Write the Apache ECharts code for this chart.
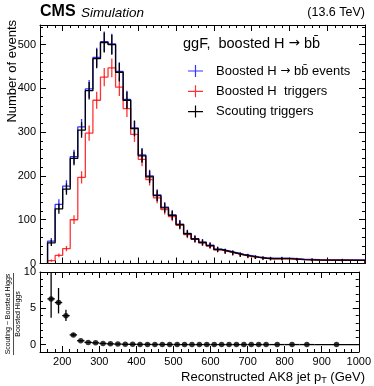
<!DOCTYPE html>
<html><head><meta charset="utf-8">
<script src="https://cdn.jsdelivr.net/npm/echarts@6/dist/echarts.min.js"></script>
<style>html,body{margin:0;padding:0;background:#fff}#c{width:374px;height:386px}</style>
</head><body><div id="c"></div>
<script>
// ---------------- data ----------------
const binEdges = [160,180,200,220,240,260,280,300,320,340,360,380,400,420,440,460,480,500,520,540,560,580,600,620,640,660,680,700,720,740,760,800,840,880,1000];
const allEvents   = [51,135,177,244,312,399,471,507,502,439,375,310,248,200,157,129,111,90,69,57,49,42,33,29,25,21,18,15,13,12,12,10,9,8];
const allErr      = [7.5,12,13.5,16,18,20.5,22,23,23,21,19.5,17.5,16,14,12.5,11.5,10.5,9.5,8.3,7.5,7,6.5,5.7,5.4,5,4.6,4.2,3.9,3.6,3.5,3.5,3.2,3,2.8];
const boostedTrig = [6.5,18.5,34,100,197,298,373,426,447,403,354,295,238,192,150,123,107,87,66,55,47,40,31,27,23,19,16,14,12,10,11,9,8,7];
const boostedErr  = [2.5,4.3,6,10,14,17.5,19.5,21,21.5,20.5,19,17.5,15.5,14,12.5,11,10.5,9.5,8.1,7.5,6.9,6.3,5.6,5.2,4.8,4.4,4,3.7,3.5,3.2,3.3,3,2.8,2.6];
const scoutTrig   = [47,125,170,240,305,395,468,505,500,437,373,308,246,198,155,127,110,89,68,56,48,41,32,28,24,20,17,14,12,11,11,9,8,7];
const scoutErr    = [7,11.5,13,15.5,17.5,20,22,23,23,21,19.5,17.5,16,14,12.5,11.3,10.5,9.4,8.2,7.5,6.9,6.4,5.7,5.3,4.9,4.5,4.1,3.7,3.5,3.3,3.3,3,2.8,2.6];
const ratioVals   = [6.3,5.8,4.0,1.35,0.55,0.32,0.26,0.17,0.12,0.09,0.06,0.05,0.04,0.04,0.03,0.03,0.03,0.02,0.02,0.02,0.02,0.02,0.02,0.02,0.02,0.02,0.02,0.02,0.02,0.02,0.02,0.02,0.02,0.02];
const ratioErrLo  = [2.6,1.5,0.75,0.2,0.1,0.06,0.05,0.04,0.03,0.03,0.02,0.02,0.02,0.02,0.02,0.02,0.02,0.02,0.02,0.02,0.02,0.02,0.02,0.02,0.02,0.02,0.02,0.02,0.02,0.02,0.02,0.02,0.02,0.02];
const ratioErrHi  = [4.5,2.0,0.8,0.2,0.1,0.06,0.05,0.04,0.03,0.03,0.02,0.02,0.02,0.02,0.02,0.02,0.02,0.02,0.02,0.02,0.02,0.02,0.02,0.02,0.02,0.02,0.02,0.02,0.02,0.02,0.02,0.02,0.02,0.02];
const xMajorTicks = [200,300,400,500,600,700,800,900,1000];
const yMainTicks  = [0,100,200,300,400,500];
const yRatioTicks = [0,5,10];
const seriesNames = ['Boosted H \u2192 bb\u0304 events','Boosted H  triggers','Scouting triggers'];
const X_MIN = 140, X_MAX = 1000, Y_MAX = 545, R_MIN = -1, R_MAX = 10;

// ---------------- helpers ----------------
const FONT = 'Liberation Sans';
const BLUE = 'rgba(0,0,255,0.8)', RED = 'rgba(255,0,0,0.8)', BLACK = '#000';
function range(a, b, s){ const r=[]; for(let v=a; v<=b+1e-9; v+=s) r.push(Math.round(v*100)/100); return r; }
const xMinor = range(160, 980, 20);
const yMainMinor = range(20, 540, 20);
const yRatioMinor = range(-1, 10, 1);

function axis(kind, grid, pos, min, max, ticks, len, showLine, showLabel){
  return {
    type:'value', gridIndex:grid, position:pos, min:min, max:max,
    axisLine:{show:showLine, onZero:false, lineStyle:{color:'#000', width:1}},
    axisTick:{show:true, inside:true, length:len, customValues:ticks, lineStyle:{color:'#000', width:1}},
    axisLabel:{show:showLabel, customValues:ticks, color:'#000', fontFamily:FONT, fontSize:11, margin:4,
      showMinLabel:true, showMaxLabel:true, formatter:(v)=>String(v)},
    splitLine:{show:false}, minorTick:{show:false}, minorSplitLine:{show:false}
  };
}
const xAxes = [
  axis('x',0,'bottom',X_MIN,X_MAX,xMajorTicks,6,true,false),
  axis('x',0,'top',X_MIN,X_MAX,xMajorTicks,6,true,false),
  axis('x',0,'bottom',X_MIN,X_MAX,xMinor,3,false,false),
  axis('x',0,'top',X_MIN,X_MAX,xMinor,3,false,false),
  axis('x',1,'bottom',X_MIN,X_MAX,xMajorTicks,6,true,true),
  axis('x',1,'top',X_MIN,X_MAX,xMajorTicks,6,true,false),
  axis('x',1,'bottom',X_MIN,X_MAX,xMinor,3,false,false),
  axis('x',1,'top',X_MIN,X_MAX,xMinor,3,false,false)
];
const yAxes = [
  axis('y',0,'left',0,Y_MAX,yMainTicks,6,true,true),
  axis('y',0,'right',0,Y_MAX,yMainTicks,6,true,false),
  axis('y',0,'left',0,Y_MAX,yMainMinor,3,false,false),
  axis('y',0,'right',0,Y_MAX,yMainMinor,3,false,false),
  axis('y',1,'left',R_MIN,R_MAX,yRatioTicks,6,true,true),
  axis('y',1,'right',R_MIN,R_MAX,yRatioTicks,6,true,false),
  axis('y',1,'left',R_MIN,R_MAX,yRatioMinor,3,false,false),
  axis('y',1,'right',R_MIN,R_MAX,yRatioMinor,3,false,false)
];

const centers = binEdges.slice(0,-1).map((e,i)=>(e+binEdges[i+1])/2);
function stepData(vals){
  const d = [[binEdges[0],0]];
  vals.forEach((v,i)=>d.push([binEdges[i],v]));
  d.push([binEdges[binEdges.length-1], vals[vals.length-1]]);
  d.push([binEdges[binEdges.length-1], 0]);
  return d;
}
function stepSeries(name, vals, color, z){
  return {name:name, type:'line', xAxisIndex:0, yAxisIndex:0, step:'end', symbol:'none',
    data:stepData(vals), color:color, itemStyle:{color:color},
    lineStyle:{color:color, width:1.3}, z:z, animation:false};
}
function errSeries(vals, errs, color, z){
  return {type:'custom', xAxisIndex:0, yAxisIndex:0, clip:true, z:z, animation:false,
    data: centers.map((c,i)=>[c, vals[i], errs[i]]),
    renderItem:(p, api)=>{
      const x=api.value(0), y=api.value(1), e=api.value(2);
      const a=api.coord([x,y-e]), b=api.coord([x,y+e]);
      return {type:'line', shape:{x1:a[0],y1:a[1],x2:b[0],y2:b[1]}, style:{stroke:color, lineWidth:1.3}};
    }};
}

const option = {
  animation:false,
  backgroundColor:'#fff',
  grid:[
    {left:40, top:25, width:325, height:238.5},
    {left:40, top:272, width:325, height:80}
  ],
  xAxis:xAxes, yAxis:yAxes,
  legend:{
    orient:'vertical', left:183, top:59.5, itemWidth:15, itemHeight:12, itemGap:7.3,
    icon:'path://M0,5.4H15V6.6H0Z M6.9,0H8.1V12H6.9Z', selectedMode:false,
    formatter:(n)=>n.replace('\u2192','{ar|\u2192}'),
    textStyle:{fontFamily:FONT, fontSize:13, color:'#000', padding:[0,0,0,8],
      rich:{ar:{fontFamily:'DejaVu Sans', fontSize:12, color:'#000'}}},
    data:[
      {name:seriesNames[0], itemStyle:{color:BLUE}},
      {name:seriesNames[1], itemStyle:{color:RED}},
      {name:seriesNames[2], itemStyle:{color:BLACK}}
    ]
  },
  series:[
    stepSeries(seriesNames[0], allEvents, BLUE, 2),
    errSeries(allEvents, allErr, BLUE, 2),
    stepSeries(seriesNames[1], boostedTrig, RED, 3),
    errSeries(boostedTrig, boostedErr, RED, 3),
    stepSeries(seriesNames[2], scoutTrig, BLACK, 4),
    errSeries(scoutTrig, scoutErr, BLACK, 4),
    {type:'custom', xAxisIndex:4, yAxisIndex:4, clip:true, z:5, animation:false,
      data: centers.map((c,i)=>[c, ratioVals[i], ratioErrLo[i], ratioErrHi[i], binEdges[i], binEdges[i+1]]),
      renderItem:(p, api)=>{
        const x=api.value(0), y=api.value(1);
        const a=api.coord([x,y-api.value(2)]), b=api.coord([x,y+api.value(3)]);
        const l=api.coord([api.value(4),y]), r=api.coord([api.value(5),y]);
        return {type:'group', children:[
          {type:'line', shape:{x1:a[0],y1:a[1],x2:b[0],y2:b[1]}, style:{stroke:'#000', lineWidth:1.3}},
          {type:'line', shape:{x1:l[0],y1:l[1],x2:r[0],y2:r[1]}, style:{stroke:'#000', lineWidth:1.3}}
        ]};
      }},
    {type:'scatter', xAxisIndex:4, yAxisIndex:4, symbol:'circle', symbolSize:5.5, z:6,
      itemStyle:{color:'#000'}, data: centers.map((c,i)=>[c, ratioVals[i]]), animation:false}
  ],
  graphic:[
    {type:'text', left:40, top:4, style:{text:'CMS', font:'bold 16px "Liberation Sans"', fill:'#000'}},
    {type:'text', left:81, top:6, style:{text:'Simulation', font:'italic 13.5px "Liberation Sans"', fill:'#000'}},
    {type:'text', right:9, top:6, style:{text:'(13.6 TeV)', font:'12.5px "Liberation Sans"', fill:'#000'}},
    {type:'text', left:183, top:36, style:{text:'ggF,  boosted H {ar|\u2192} bb\u0304', font:'14.5px "Liberation Sans"', fill:'#000',
      rich:{ar:{fontFamily:'DejaVu Sans', fontSize:13.5, fill:'#000'}}}},
    {type:'text', x:12, y:20, rotation:Math.PI/2,
      style:{text:'Number of events', font:'13px "Liberation Sans"', fill:'#000', align:'right', verticalAlign:'middle'}},
    {type:'text', x:365, y:377,
      style:{text:'Reconstructed AK8 jet p{sub|T} (GeV)', font:'13px "Liberation Sans"', fill:'#000', align:'right', verticalAlign:'middle',
        rich:{sub:{fontSize:9, fontFamily:FONT, padding:[8,0,0,0], fill:'#000'}}}},
    {type:'text', x:8.5, y:314, rotation:Math.PI/2,
      style:{text:'Scouting \u2212 Boosted Higgs', font:'7px "Liberation Sans"', fill:'#000', align:'center', verticalAlign:'middle'}},
    {type:'line', shape:{x1:13.5, y1:273, x2:13.5, y2:355}, style:{stroke:'#000', lineWidth:0.7}},
    {type:'text', x:18.5, y:314, rotation:Math.PI/2,
      style:{text:'Boosted Higgs', font:'7px "Liberation Sans"', fill:'#000', align:'center', verticalAlign:'middle'}}
  ]
};
const chart = echarts.init(document.getElementById('c'), null, {renderer:'canvas'});
chart.setOption(option);
</script></body></html>
